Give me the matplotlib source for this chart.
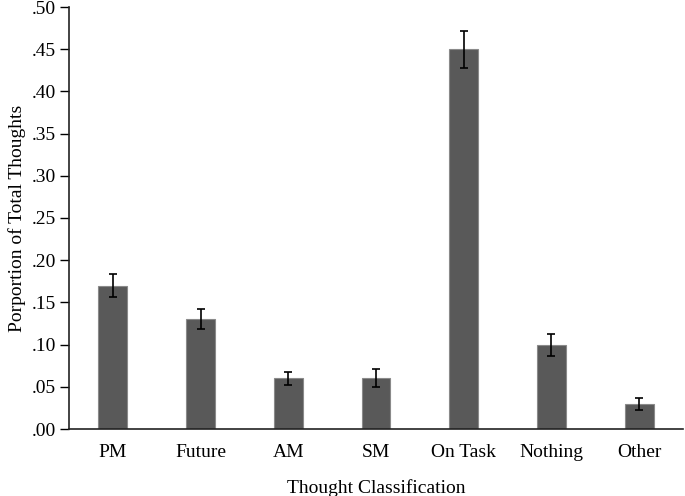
import matplotlib
matplotlib.use("Agg")
import matplotlib.pyplot as plt
from matplotlib.ticker import FuncFormatter, MultipleLocator

categories = ["PM", "Future", "AM", "SM", "On Task", "Nothing", "Other"]
values = [0.17, 0.13, 0.06, 0.06, 0.45, 0.10, 0.03]
errors = [0.014, 0.012, 0.008, 0.0105, 0.022, 0.013, 0.007]

plt.rcParams['font.family'] = ['Liberation Serif', 'DejaVu Serif']
fig = plt.figure(figsize=(6.85, 4.96), dpi=100)
ax = fig.add_axes([69/685, 1-429/496, (683-69)/685, (429-7)/496])

x = list(range(len(categories)))
ax.bar(x, values, width=0.33, color='#595959', edgecolor='#8a8a8a', linewidth=0.8,
       yerr=errors, error_kw=dict(ecolor='black', elinewidth=1.2, capsize=3, capthick=1.2))

ax.set_xlim(-0.5, len(categories) - 0.5)
ax.set_ylim(0, 0.5)
ax.yaxis.set_major_locator(MultipleLocator(0.05))
ax.yaxis.set_major_formatter(FuncFormatter(lambda v, p: ("%.2f" % v)[1:]))
ax.set_xticks(x)
ax.set_xticklabels(categories)
ax.tick_params(axis='x', length=0, pad=10.5, labelsize=14)
ax.tick_params(axis='y', direction='out', length=6.5, width=1, labelsize=14, pad=3)
for s in ['top', 'right']:
    ax.spines[s].set_visible(False)
for s in ['left', 'bottom']:
    ax.spines[s].set_linewidth(1.2)
    ax.spines[s].set_color('#222222')
ax.set_xlabel("Thought Classification", fontsize=14, labelpad=13)
ax.set_ylabel("Porportion of Total Thoughts", fontsize=14, labelpad=4)

fig.savefig("out.png", dpi=100)
